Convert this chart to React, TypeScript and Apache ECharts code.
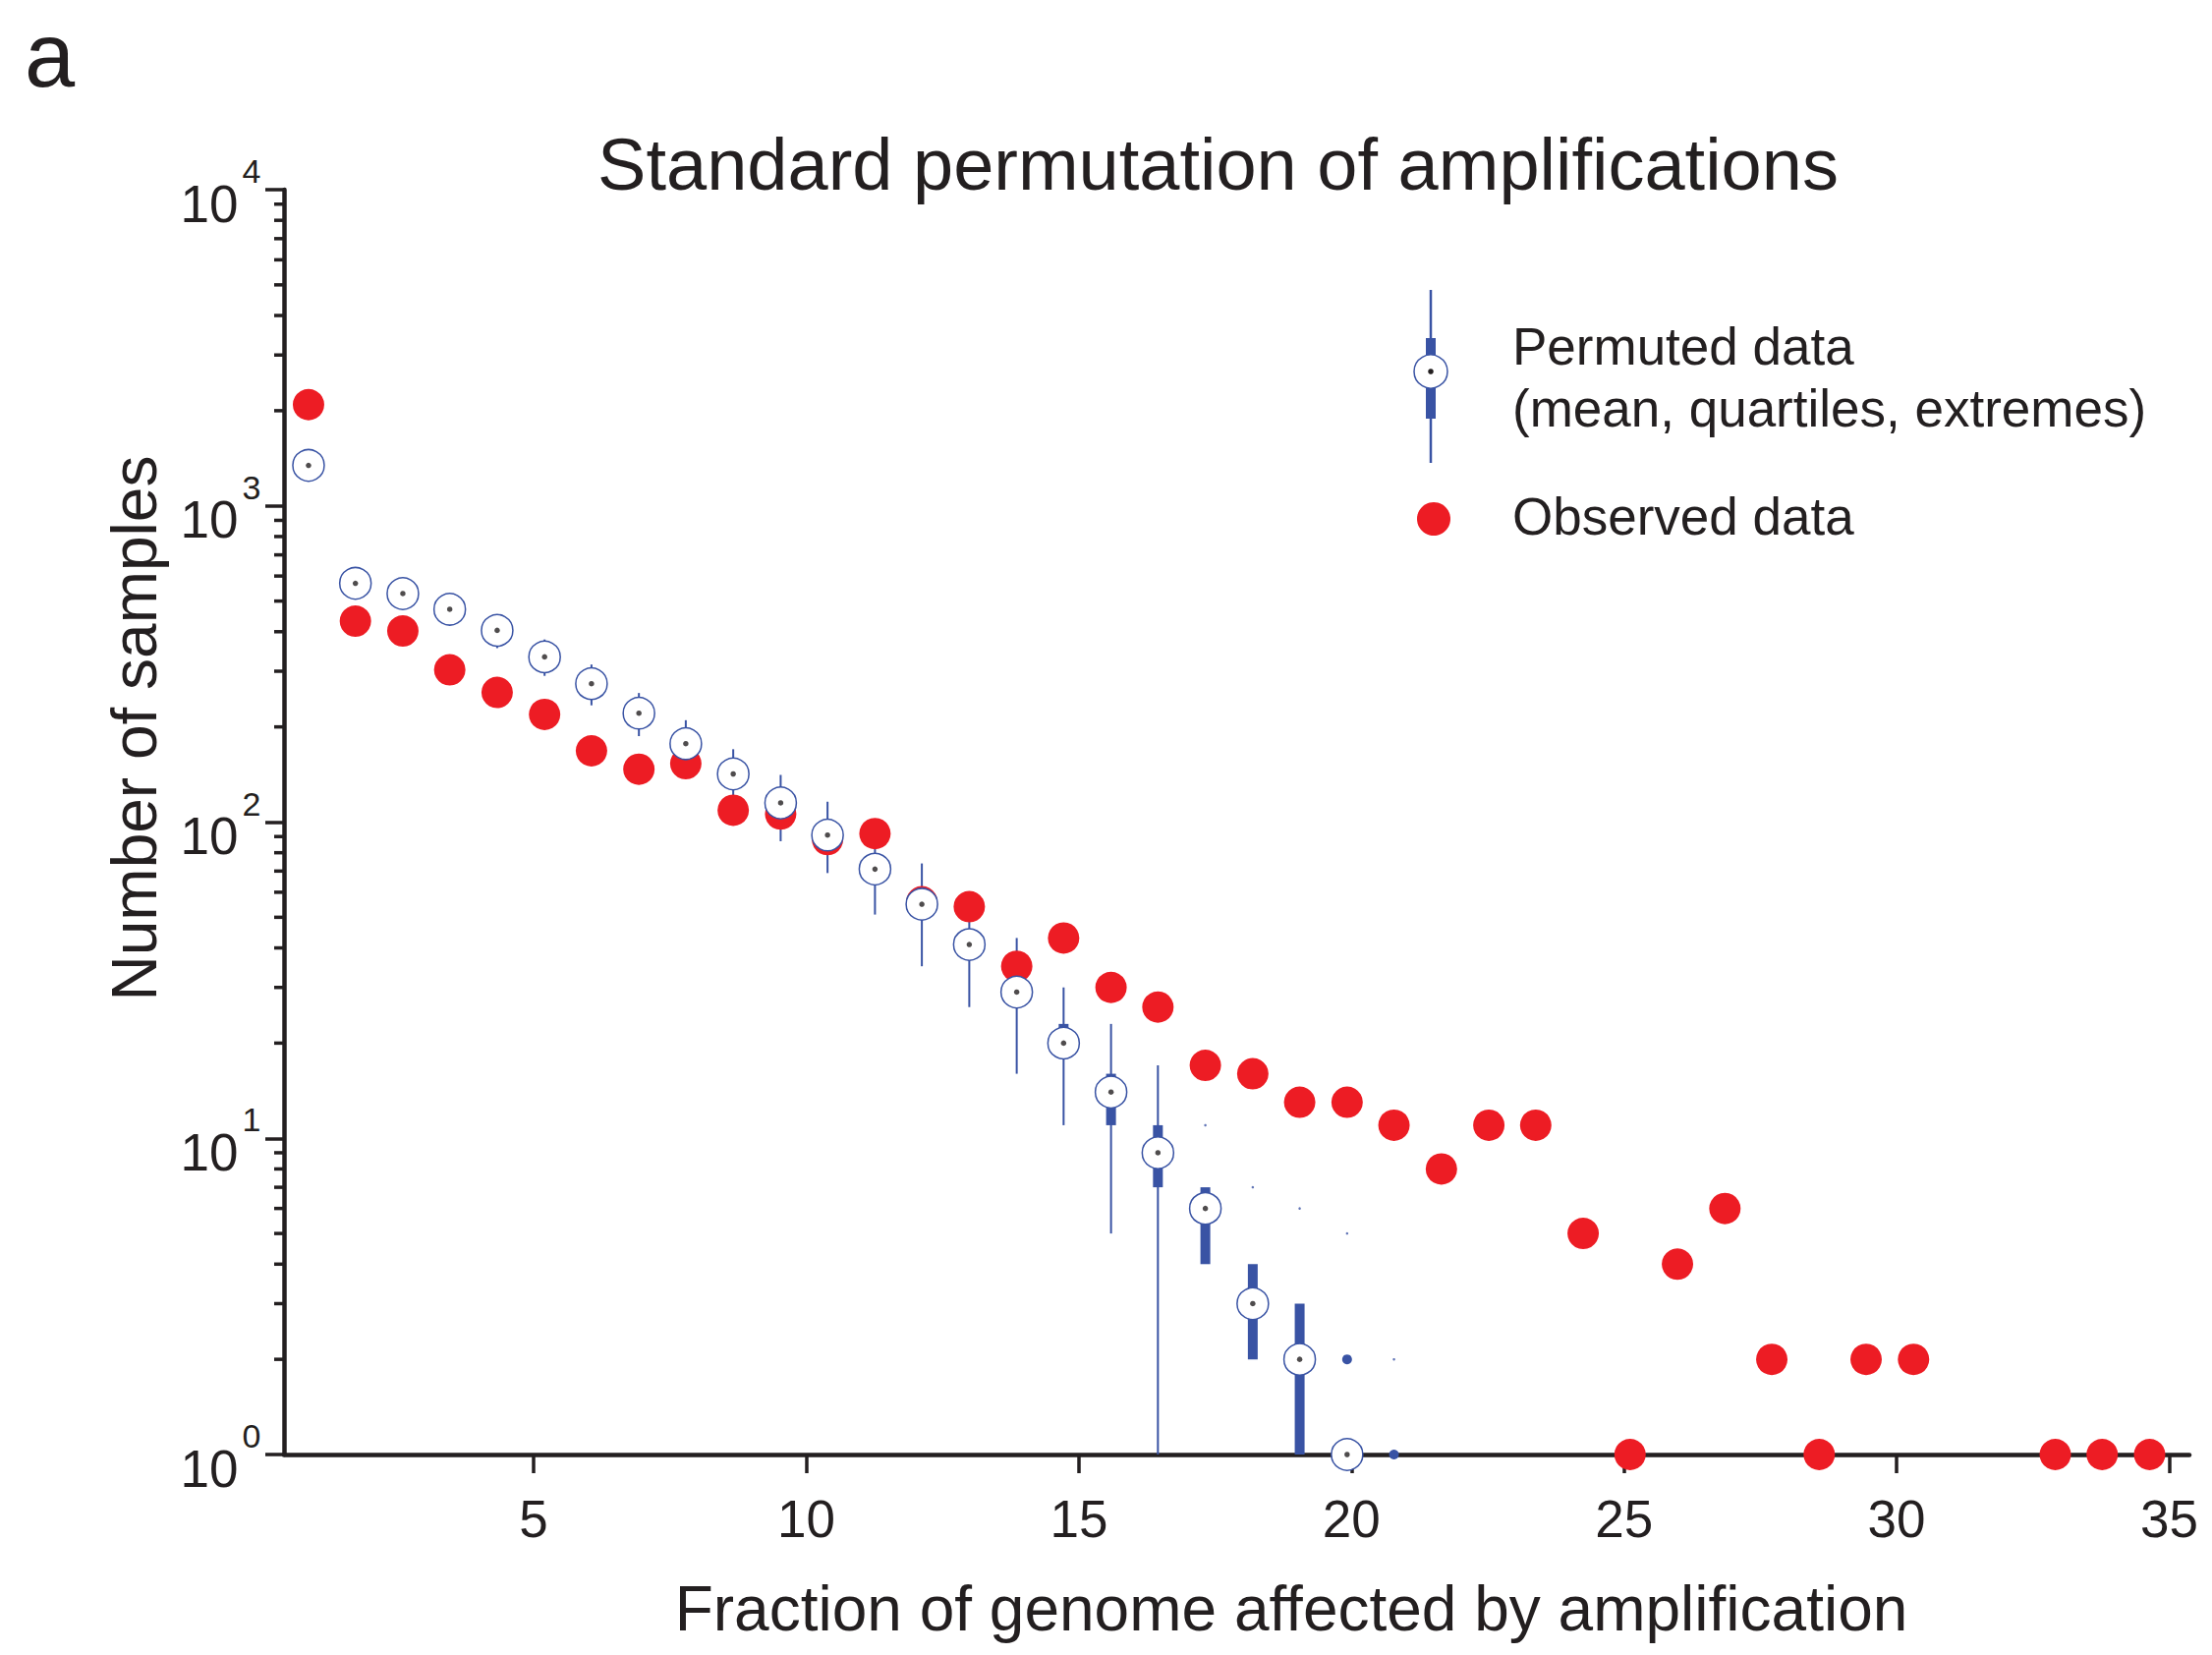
import React, { useEffect, useRef } from 'react';
import * as echarts from 'echarts';

// ---------- data ----------
// bin centres (fraction of genome affected by amplification, %)
const xValues = [0.87, 1.73, 2.6, 3.46, 4.33, 5.2, 6.06, 6.93, 7.79, 8.66, 9.53, 10.39, 11.26, 12.12, 12.99, 13.86, 14.72, 15.59, 16.45, 17.32, 18.19, 19.05, 19.92, 20.78, 21.65, 22.52, 23.38, 24.25, 25.11, 25.98, 26.85, 27.71, 28.58, 29.44, 30.31, 31.18, 32.04, 32.91, 33.77, 34.64];

// observed number of samples per bin
const observed = [2090, 432, 402, 303, 257, 219, 168, 147, 153, 109, 106, 88, 92, 56, 54, 35, 43, 30, 26, 17, 16, 13, 13, 11, 8, 11, 11, 5, 1, 4, 6, 2, 1, 2, 2, null, null, 1, 1, 1];

// permuted data: mean, extremes, quartiles
const permMean = [1343, 569, 528, 471, 404, 333, 274, 221, 177, 142, 115, 91, 71, 55, 41, 29, 20, 14, 9, 6, 3, 2, 1];
const permMin = [1300, 545, 505, 450, 355, 290, 234, 187, 146, 114, 87, 69, 51, 35, 26, 16, 11, 5, 1];
const permMax = [1390, 595, 552, 495, 450, 378, 315, 256, 210, 170, 141, 116, 92, 74, 57, 43, 30, 23, 17];
const permQ1 = [1310, 555, 515, 460, 392, 322, 264, 212, 169, 135, 109, 86, 66, 51, 37, 26, 18, 11, 7, 4, 2, 1, 2, 1];
const permQ3 = [1375, 582, 540, 482, 416, 344, 284, 230, 185, 149, 121, 96, 76, 60, 45, 32, 23, 16, 11, 7, 4, 3, 2, 1];
// rare maxima drawn as faint specks
const permRareMax = [null, null, null, null, null, null, null, null, null, null, null, null, null, null, null, null, null, null, null, 11, 7, 6, 5, 2];

// axes
const xTickValues = [5, 10, 15, 20, 25, 30, 35];
const X_MIN = 0.42;
const X_MAX = 35.37;
const Y_MIN = 1;
const Y_MAX = 10000;
const yMinorTicks = [2, 3, 4, 5, 6, 7, 8, 9, 20, 30, 40, 50, 60, 70, 80, 90, 200, 300, 400, 500, 600, 700, 800, 900, 2000, 3000, 4000, 5000, 6000, 7000, 8000, 9000];

const TITLE = 'Standard permutation of amplifications';
const X_NAME = 'Fraction of genome affected by amplification';
const Y_NAME = 'Number of samples';
const LEGEND_PERM = ['Permuted data', '(mean, quartiles, extremes)'];
const LEGEND_OBS = 'Observed data';

// ---------- styles ----------
const FONT = '"Liberation Sans", Arial, Helvetica, sans-serif';
const INK = '#231f20';
const RED = '#ed1c24';
const BLUE = '#3953a4';

function txt(text: string, x: number, y: number, size: number, align: string, extra: any = {}, lineHeight?: number) {
  return {
    type: 'text',
    x,
    y,
    z: 100,
    silent: true,
    ...extra,
    style: {
      text,
      fontSize: size,
      fontFamily: FONT,
      fill: INK,
      align,
      textAlign: align,
      verticalAlign: 'middle',
      textVerticalAlign: 'middle',
      ...(lineHeight ? { lineHeight } : {}),
    },
  };
}

export default function App() {
  const ref = useRef<HTMLDivElement>(null);

  useEffect(() => {
    document.body.style.margin = '0';
    document.body.style.overflow = 'hidden';
    const chart = echarts.init(ref.current as HTMLDivElement, null, { renderer: 'svg' });

    const observedData = xValues
      .map((x, i) => (observed[i] == null ? null : [x, observed[i]]))
      .filter((d) => d !== null);
    const meanData = xValues
      .map((x, i) => (permMean[i] == null ? null : [x, permMean[i]]))
      .filter((d) => d !== null);
    const rareData = xValues
      .map((x, i) => (permRareMax[i] == null ? null : [x, permRareMax[i]]))
      .filter((d) => d !== null);
    const permIdx = xValues.map((_, i) => i).filter((i) => permQ1[i] != null || permMin[i] != null);
    const permData = permIdx.map((i) => [xValues[i], permQ1[i] ?? permMin[i], i]);

    const option: any = {
      animation: false,
      backgroundColor: '#ffffff',
      grid: { left: 289, right: 23, top: 193, bottom: 204, containLabel: false },
      xAxis: {
        type: 'value',
        min: X_MIN,
        max: X_MAX,
        axisLine: { show: true, onZero: false, lineStyle: { color: INK, width: 4.5 } },
        axisTick: { show: true, inside: false, length: 19, customValues: xTickValues, lineStyle: { color: INK, width: 3.5 } },
        axisLabel: {
          show: true,
          customValues: xTickValues,
          fontSize: 53,
          lineHeight: 53,
          fontFamily: FONT,
          color: INK,
          margin: 38.5,
        },
        splitLine: { show: false },
      },
      yAxis: {
        type: 'log',
        logBase: 10,
        min: Y_MIN,
        max: Y_MAX,
        axisLine: { show: true, lineStyle: { color: INK, width: 4.5 } },
        axisTick: { show: true, inside: false, length: 19, lineStyle: { color: INK, width: 3.5 } },
        minorTick: { show: false },
        splitLine: { show: false },
        axisLabel: {
          show: true,
          margin: 23.5,
          formatter: (v: number) => {
            const e = Math.round(Math.log10(v));
            return `{s|${e}}\n{b|10}`;
          },
          rich: {
            s: { fontSize: 34, lineHeight: 28, fontFamily: FONT, color: INK },
            b: { fontSize: 53, lineHeight: 38, fontFamily: FONT, color: INK, padding: [0, 23, 0, 0] },
          },
        },
      },
      series: [
        {
          name: 'minorTicks',
          type: 'custom',
          coordinateSystem: 'cartesian2d',
          silent: true,
          clip: false,
          data: yMinorTicks.map((v) => [X_MIN, v]),
          renderItem: (params: any, api: any) => {
            const c = api.coord([api.value(0), api.value(1)]);
            return {
              type: 'line',
              shape: { x1: c[0] - 10, y1: c[1], x2: c[0], y2: c[1] },
              style: { stroke: INK, lineWidth: 3.5 },
            };
          },
        },
        {
          name: LEGEND_OBS,
          type: 'scatter',
          silent: true,
          clip: false,
          symbol: 'circle',
          symbolSize: 32,
          itemStyle: { color: RED, opacity: 1 },
          data: observedData,
        },
        {
          name: 'Permuted ranges',
          type: 'custom',
          coordinateSystem: 'cartesian2d',
          silent: true,
          clip: false,
          data: permData,
          renderItem: (params: any, api: any) => {
            const i = api.value(2);
            const x = api.value(0);
            const children: any[] = [];
            if (permMin[i] != null && permMax[i] != null) {
              const a = api.coord([x, permMax[i]]);
              const b = api.coord([x, permMin[i]]);
              children.push({
                type: 'line',
                shape: { x1: a[0], y1: a[1], x2: b[0], y2: b[1] },
                style: { stroke: BLUE, lineWidth: 2 },
              });
            }
            if (permQ1[i] != null && permQ3[i] != null) {
              const a = api.coord([x, permQ3[i]]);
              const b = api.coord([x, permQ1[i]]);
              if (permQ1[i] === permQ3[i]) {
                children.push({
                  type: 'circle',
                  shape: { cx: a[0], cy: a[1], r: 5 },
                  style: { fill: BLUE },
                });
              } else {
                children.push({
                  type: 'rect',
                  shape: { x: a[0] - 5, y: a[1], width: 10, height: b[1] - a[1] },
                  style: { fill: BLUE },
                });
              }
            }
            return { type: 'group', children };
          },
        },
        {
          name: 'Permuted data',
          type: 'scatter',
          silent: true,
          clip: false,
          symbol: 'circle',
          symbolSize: 32,
          itemStyle: { color: '#ffffff', borderColor: BLUE, borderWidth: 1.5, opacity: 1 },
          data: meanData,
        },
        {
          name: 'Permuted mean dot',
          type: 'scatter',
          silent: true,
          clip: false,
          symbol: 'circle',
          symbolSize: 5.5,
          itemStyle: { color: INK },
          data: meanData,
        },
        {
          name: 'Permuted rare maxima',
          type: 'scatter',
          silent: true,
          clip: false,
          symbol: 'circle',
          symbolSize: 2.5,
          itemStyle: { color: BLUE },
          data: rareData,
        },
      ],
      graphic: [
        txt('a', 25, 56, 92, 'left', {}, 70),
        txt(TITLE, 1239.5, 167, 74, 'center'),
        txt(X_NAME, 1314, 1637, 64, 'center'),
        txt(Y_NAME, 137, 741, 64, 'center', { rotation: Math.PI / 2 }),
        // legend: permuted symbol
        {
          type: 'line', z: 100, silent: true,
          shape: { x1: 1456, y1: 295, x2: 1456, y2: 471 },
          style: { stroke: BLUE, lineWidth: 2.5 },
        },
        {
          type: 'rect', z: 100, silent: true,
          shape: { x: 1451, y: 344, width: 10, height: 82 },
          style: { fill: BLUE },
        },
        {
          type: 'circle', z: 101, silent: true,
          shape: { cx: 1456, cy: 378, r: 17 },
          style: { fill: '#ffffff', stroke: BLUE, lineWidth: 1.5 },
        },
        {
          type: 'circle', z: 102, silent: true,
          shape: { cx: 1456, cy: 378, r: 2.8 },
          style: { fill: INK },
        },
        txt(LEGEND_PERM[0], 1539, 352, 53, 'left'),
        txt(LEGEND_PERM[1], 1539, 415, 53, 'left'),
        // legend: observed symbol
        {
          type: 'circle', z: 100, silent: true,
          shape: { cx: 1459, cy: 528, r: 17 },
          style: { fill: RED },
        },
        txt(LEGEND_OBS, 1539, 525, 53, 'left'),
      ],
    };

    chart.setOption(option);
    return () => chart.dispose();
  }, []);

  return <div ref={ref} style={{ width: 2251, height: 1684, background: '#ffffff' }} />;
}
